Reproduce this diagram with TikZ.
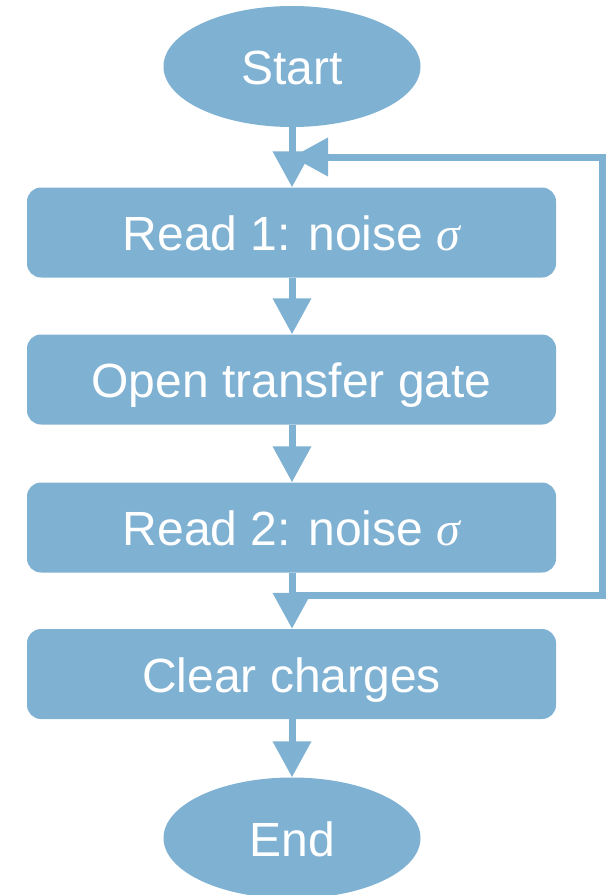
\documentclass[tikz,border=0pt]{standalone}
\usepackage{fontspec}
\setmainfont{Liberation Sans}
\newfontfamily\sigfont{Liberation Serif}
\usetikzlibrary{shapes.geometric,arrows.meta}
\definecolor{flow}{RGB}{127,177,211}
\tikzset{
  term/.style={ellipse, fill=flow, draw=none, minimum width=257pt, minimum height=121pt, inner sep=0pt, text=white, font=\fontsize{48}{58}\selectfont, text height=46pt, text depth=10pt},
  stepbox/.style={rectangle, rounded corners=14pt, fill=flow, draw=none, minimum width=529pt, minimum height=90pt, inner sep=0pt, text=white, font=\fontsize{48}{58}\selectfont, text height=46pt, text depth=10pt},
  conn/.style={draw=flow, line width=7pt, line join=miter, -{Triangle[length=36pt,width=37pt]}},
}
\begin{document}
\begin{tikzpicture}[x=1pt,y=-1pt]
\useasboundingbox (0,0) rectangle (606,895);
\node[term] (start) at (292,66.5) {Start};
\node[stepbox] (read1) at (291.5,232.5) {Read 1: noise {\sigfont\itshape σ}};
\node[stepbox] (open) at (291.5,379.5) {Open transfer gate};
\node[stepbox] (read2) at (291.5,527.5) {Read 2: noise {\sigfont\itshape σ}};
\node[stepbox] (clear) at (291.5,674) {Clear charges};
\node[term] (end) at (292,838) {End};
\draw[conn] (start.south) -- (read1.north -| start.south);
\draw[conn] (read1.south -| start.south) -- (open.north -| start.south);
\draw[conn] (open.south -| start.south) -- (read2.north -| start.south);
\draw[conn] (read2.south -| start.south) -- (clear.north -| start.south);
\draw[conn] (clear.south -| start.south) -- (end.north);
\coordinate (j1) at (292,595);
\coordinate (r1) at (602,595);
\coordinate (r2) at (602,157);
\coordinate (j2) at (292,157);
\draw[conn] (j1) -- (r1) -- (r2) -- (j2);
\end{tikzpicture}
\end{document}
